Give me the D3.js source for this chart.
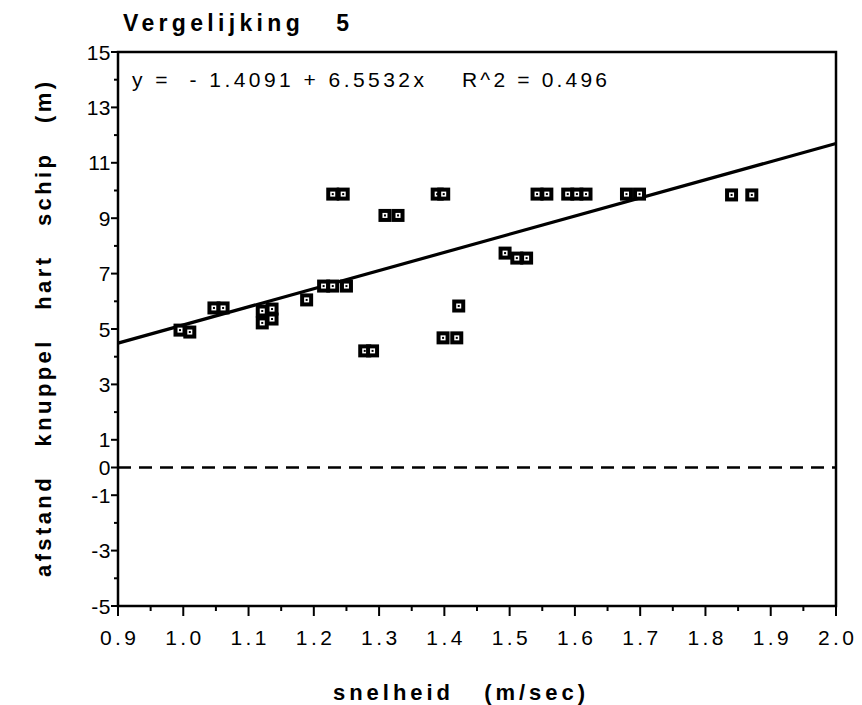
<!DOCTYPE html>
<html><head><meta charset="utf-8">
<script src="https://cdn.jsdelivr.net/npm/d3@7"></script>
<style>
html,body{margin:0;padding:0;background:#fff;}
text{font-family:"Liberation Sans",Arial,Helvetica,sans-serif;fill:#000;}
</style></head>
<body>
<svg id="chart" width="862" height="705"></svg>
<script>
// ---- data ----
const speeds = [0.995,1.010,1.047,1.061,1.121,1.136,1.121,1.136,1.189,1.215,1.229,1.250,1.229,1.245,1.278,1.290,1.309,1.329,1.389,1.399,1.398,1.419,1.422,1.493,1.511,1.526,1.542,1.557,1.589,1.603,1.617,1.679,1.699,1.840,1.871];
const distances = [4.96,4.89,5.76,5.76,5.65,5.72,5.22,5.36,6.05,6.55,6.55,6.55,9.87,9.87,4.21,4.21,9.10,9.10,9.87,9.87,4.68,4.68,5.83,7.74,7.56,7.56,9.87,9.87,9.87,9.87,9.87,9.87,9.87,9.84,9.84];
const intercept = -1.4091, slope = 6.5532;
const xTickLabels = ["0.9","1.0","1.1","1.2","1.3","1.4","1.5","1.6","1.7","1.8","1.9","2.0"];
const yTickLabels = ["15","13","11","9","7","5","3","1","0","-1","-3","-5"];
const titleText = "Vergelijking   5";
const eqText = "y =  - 1.4091 + 6.5532x";
const r2Text = "R^2 = 0.496";
const xTitle = "snelheid   (m/sec)";
const yTitle = "afstand   knuppel   hart   schip   (m)";

const svg = d3.select("#chart");
const L = 118, R = 836, T = 52, B = 606;
const x = d3.scaleLinear().domain([0.9, 2.0]).range([L, R]);
const y = d3.scaleLinear().domain([-5, 15]).range([B, T]);

// frame
svg.append("rect").attr("x", L).attr("y", T).attr("width", R - L).attr("height", B - T)
  .attr("fill", "none").attr("stroke", "#000").attr("stroke-width", 2.5);

// y ticks
const yMajor = yTickLabels.map(Number);
const yAll = d3.range(-5, 16, 1);
const yAxis = svg.append("g");
yAll.forEach(v => {
  const major = yMajor.includes(v);
  yAxis.append("line").attr("x1", L).attr("x2", L - (major ? 7 : 4))
    .attr("y1", y(v)).attr("y2", y(v)).attr("stroke", "#000").attr("stroke-width", 2);
});
yAxis.selectAll("text.yl").data(yTickLabels).enter().append("text")
  .attr("x", L - 7).attr("y", d => y(+d)).attr("dy", "0.36em")
  .attr("text-anchor", "end").attr("font-size", 21).attr("letter-spacing", 0.5)
  .text(d => d);

// x ticks
const xAll = d3.range(0, 23).map(i => 0.9 + i * 0.05);
xAll.forEach((v, i) => {
  const major = i % 2 === 0;
  svg.append("line").attr("x1", x(v)).attr("x2", x(v)).attr("y1", B).attr("y2", B + (major ? 10 : 5))
    .attr("stroke", "#000").attr("stroke-width", 2);
});
svg.selectAll("text.xl").data(xTickLabels).enter().append("text")
  .attr("x", d => x(+d)).attr("y", 645).attr("text-anchor", "middle")
  .attr("font-size", 21).attr("textLength", 36).attr("lengthAdjust", "spacing")
  .text(d => d);

// zero dashed line
svg.append("line").attr("x1", x(0.9)).attr("x2", x(2.0)).attr("y1", y(0)).attr("y2", y(0))
  .attr("stroke", "#000").attr("stroke-width", 2.5).attr("stroke-dasharray", "13,8");

// regression line
svg.append("line").attr("x1", x(0.9)).attr("y1", y(intercept + slope * 0.9))
  .attr("x2", x(2.0)).attr("y2", y(intercept + slope * 2.0))
  .attr("stroke", "#000").attr("stroke-width", 3.2);

// points
const pts = speeds.map((s, i) => ({s, d: distances[i]}));
const g = svg.selectAll("g.pt").data(pts).enter().append("g")
  .attr("transform", p => `translate(${x(p.s)},${y(p.d)})`);
g.append("rect").attr("x", -6.5).attr("y", -6.5).attr("width", 13).attr("height", 13).attr("fill", "#000");
g.append("rect").attr("x", -2.5).attr("y", -2.5).attr("width", 5).attr("height", 5).attr("fill", "#fff");
g.append("rect").attr("x", -1).attr("y", -1).attr("width", 2).attr("height", 2).attr("fill", "#000");

// title
svg.append("text").attr("x", 123).attr("y", 31).attr("font-size", 23).attr("font-weight", "bold")
  .style("white-space", "pre")
  .attr("textLength", 226).attr("lengthAdjust", "spacing").text(titleText);

// equation
svg.append("text").attr("x", 132).attr("y", 87).attr("font-size", 21)
  .style("white-space", "pre").attr("textLength", 292).attr("lengthAdjust", "spacing").text(eqText);
svg.append("text").attr("x", 462).attr("y", 87).attr("font-size", 21)
  .style("white-space", "pre").attr("textLength", 145).attr("lengthAdjust", "spacing").text(r2Text);

// axis titles
svg.append("text").attr("x", (333 + 585) / 2).attr("y", 700).attr("text-anchor", "middle")
  .attr("font-size", 22).attr("font-weight", "bold").style("white-space", "pre")
  .attr("textLength", 252).attr("lengthAdjust", "spacing").text(xTitle);
svg.append("text").attr("transform", `translate(51,${(82 + 577) / 2}) rotate(-90)`)
  .attr("text-anchor", "middle").attr("font-size", 22).attr("font-weight", "bold")
  .style("white-space", "pre").attr("textLength", 495).attr("lengthAdjust", "spacing").text(yTitle);
</script>
</body></html>
